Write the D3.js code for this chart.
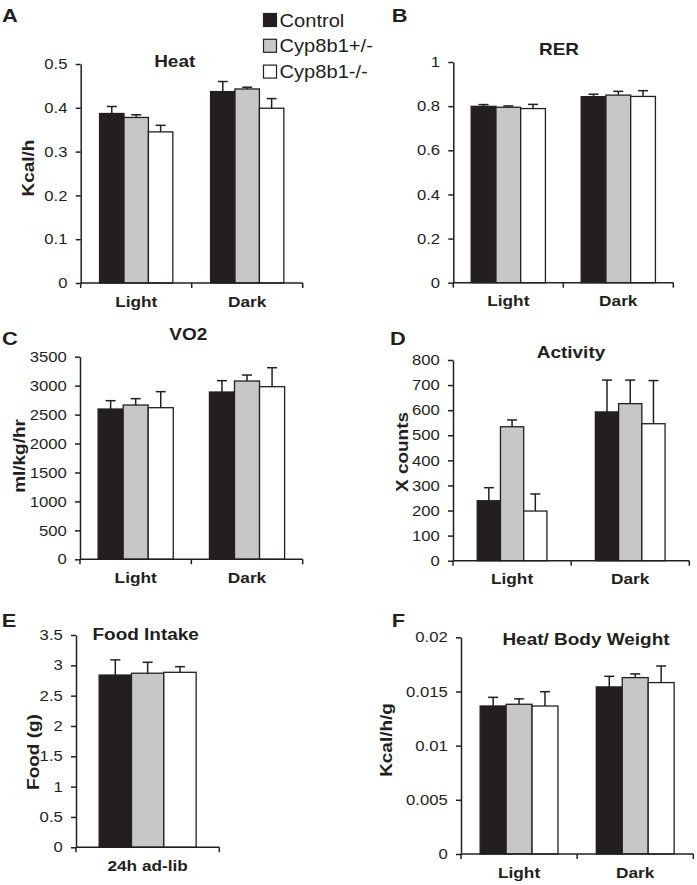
<!DOCTYPE html>
<html>
<head>
<meta charset="utf-8">
<script src="https://cdnjs.cloudflare.com/ajax/libs/d3/7.8.5/d3.min.js"></script>
<style>
body { margin: 0; background: #fff; }
svg { display: block; font-family: "Liberation Sans", Arial, Helvetica, sans-serif; }
</style>
</head>
<body>
<svg width="697" height="885"></svg>
<script>
var series = ["Control", "Cyp8b1+/-", "Cyp8b1-/-"];
var periods = ["Light", "Dark"];
var feeding = ["24h ad-lib"];

// mean and SEM, [category][series]
var heatMean = [[0.387, 0.378, 0.345], [0.437, 0.443, 0.399]];
var heatSem  = [[0.016, 0.006, 0.015], [0.023, 0.004, 0.022]];
var heatTicks = [0, 0.1, 0.2, 0.3, 0.4, 0.5];

var rerMean = [[0.799, 0.795, 0.789], [0.843, 0.850, 0.844]];
var rerSem  = [[0.008, 0.006, 0.019], [0.011, 0.017, 0.026]];
var rerTicks = [0, 0.2, 0.4, 0.6, 0.8, 1];

var vo2Mean = [[2596, 2665, 2619], [2890, 3080, 2982]];
var vo2Sem  = [[144, 110, 277], [196, 103, 328]];
var vo2Ticks = [0, 500, 1000, 1500, 2000, 2500, 3000, 3500];

var actMean = [[239, 534, 198], [593, 626, 546]];
var actSem  = [[52, 27, 68], [127, 94, 172]];
var actTicks = [0, 100, 200, 300, 400, 500, 600, 700, 800];

var foodMean = [[2.84, 2.87, 2.885]];
var foodSem  = [[0.25, 0.18, 0.093]];
var foodTicks = [0, 0.5, 1, 1.5, 2, 2.5, 3, 3.5];

var hbwMean = [[0.01366, 0.01382, 0.01366], [0.01542, 0.01628, 0.01582]];
var hbwSem  = [[0.0008, 0.0005, 0.00132], [0.00098, 0.00034, 0.00153]];
var hbwTicks = [0, 0.005, 0.01, 0.015, 0.02];

var colors = ["#231f20", "#c6c7c9", "#ffffff"];
var ink = "#231f20";
var SX = 1.15; // the figure's type is a bit wider than Arial

var svg = d3.select("svg");

function label(g, x, y, s, size, bold, anchor, rot) {
  return g.append("text")
    .attr("transform", "translate(" + x + "," + y + ")" + (rot ? " rotate(-90)" : "") + " scale(" + SX + ",1)")
    .attr("text-anchor", anchor)
    .attr("dy", rot ? "0.35em" : null)
    .attr("fill", ink)
    .style("font-size", size + "px")
    .style("font-weight", bold ? "bold" : "normal")
    .text(s);
}

var panels = [
  { letter: "A", title: "Heat", ylab: "Kcal/h", cats: periods, mean: heatMean, sem: heatSem, ticks: heatTicks,
    x0: 80.7, x1: 302.7, top: 64, bot: 283, pad: 0.34, lx: 2, ly: 21.7, tx: 174.7, ty: 66.7, yx: 28.3, yy: 168 },
  { letter: "B", title: "RER", ylab: null, cats: periods, mean: rerMean, sem: rerSem, ticks: rerTicks,
    x0: 453.3, x1: 673.3, top: 62, bot: 282.7, pad: 0.325, lx: 391.7, ly: 21.7, tx: 559, ty: 55 },
  { letter: "C", title: "VO2", ylab: "ml/kg/hr", cats: periods, mean: vo2Mean, sem: vo2Sem, ticks: vo2Ticks,
    x0: 80, x1: 302.7, top: 356.7, bot: 559.3, pad: 0.325, lx: 2, ly: 345, tx: 188.3, ty: 340, yx: 19, yy: 456 },
  { letter: "D", title: "Activity", ylab: "X counts", cats: periods, mean: actMean, sem: actSem, ticks: actTicks,
    x0: 453, x1: 689.3, top: 360, bot: 560.7, pad: 0.41, lx: 390, ly: 345, tx: 571, ty: 358.3, yx: 402.3, yy: 452 },
  { letter: "E", title: "Food Intake", ylab: "Food (g)", cats: feeding, mean: foodMean, sem: foodSem, ticks: foodTicks,
    x0: 76, x1: 219.3, top: 635, bot: 847.3, pad: 0.323, lx: 1.7, ly: 626.7, tx: 145.7, ty: 640, yx: 33.3, yy: 752 },
  { letter: "F", title: "Heat/ Body Weight", ylab: "Kcal/h/g", cats: periods, mean: hbwMean, sem: hbwSem, ticks: hbwTicks,
    x0: 461, x1: 693.3, top: 637.3, bot: 854, pad: 0.33, lx: 391.7, ly: 626.7, tx: 586, ty: 645, yx: 386.7, yy: 740 }
];

panels.forEach(function(p) {
  var g = svg.append("g");
  var y = d3.scaleLinear().domain([0, d3.max(p.ticks)]).range([p.bot, p.top]);
  var x = d3.scaleBand().domain(p.cats).range([p.x0, p.x1]).paddingInner(p.pad).paddingOuter(p.pad / 2);
  var xs = d3.scaleBand().domain(series).range([0, x.bandwidth()]);

  var rows = [];
  p.cats.forEach(function(c, i) {
    series.forEach(function(s, j) {
      rows.push({ cat: c, ser: s, j: j, v: p.mean[i][j], e: p.sem[i][j] });
    });
  });

  g.selectAll("rect.bar").data(rows).join("rect")
    .attr("class", "bar")
    .attr("x", function(d) { return x(d.cat) + xs(d.ser); })
    .attr("y", function(d) { return y(d.v); })
    .attr("width", xs.bandwidth())
    .attr("height", function(d) { return y(0) - y(d.v); })
    .attr("fill", function(d) { return colors[d.j]; })
    .attr("stroke", ink)
    .attr("stroke-width", 1.3);

  var cx = function(d) { return x(d.cat) + xs(d.ser) + xs.bandwidth() / 2; };
  var err = g.selectAll("g.err").data(rows).join("g").attr("class", "err")
    .attr("stroke", ink).attr("stroke-width", 1.5);
  err.append("line")
    .attr("x1", cx).attr("x2", cx)
    .attr("y1", function(d) { return y(d.v); })
    .attr("y2", function(d) { return y(d.v + d.e); });
  err.append("line")
    .attr("x1", function(d) { return cx(d) - 5; })
    .attr("x2", function(d) { return cx(d) + 5; })
    .attr("y1", function(d) { return y(d.v + d.e); })
    .attr("y2", function(d) { return y(d.v + d.e); });

  // y axis
  var ya = g.append("g").attr("transform", "translate(" + p.x0 + ",0)")
    .call(d3.axisLeft(y).tickValues(p.ticks).tickSize(5).tickSizeOuter(0).tickPadding(6.5)
      .tickFormat(function(d) { return String(d); }));
  ya.select(".domain").attr("stroke", ink).attr("stroke-width", 1.5);
  ya.selectAll(".tick line").attr("stroke", ink).attr("stroke-width", 1.5);
  ya.selectAll(".tick text")
    .attr("transform", "scale(" + SX + ",1)")
    .attr("fill", ink)
    .style("font-size", "14.5px")
    .style("font-family", "'Liberation Sans', Arial, sans-serif");

  // x axis with ticks on category boundaries
  g.append("line").attr("x1", p.x0).attr("x2", p.x1).attr("y1", p.bot).attr("y2", p.bot)
    .attr("stroke", ink).attr("stroke-width", 1.5);
  g.selectAll("line.xt").data(d3.range(p.cats.length + 1)).join("line")
    .attr("class", "xt")
    .attr("x1", function(i) { return p.x0 + i * x.step(); })
    .attr("x2", function(i) { return p.x0 + i * x.step(); })
    .attr("y1", p.bot).attr("y2", p.bot + 5)
    .attr("stroke", ink).attr("stroke-width", 1.5);
  p.cats.forEach(function(c) {
    label(g, x(c) + x.bandwidth() / 2, p.bot + 23.5, c, 15, true, "middle");
  });

  label(g, p.tx, p.ty, p.title, 16.5, true, "middle");
  label(g, p.lx, p.ly, p.letter, 19, true, "start");
  if (p.ylab) label(g, p.yx, p.yy, p.ylab, 16.5, true, "middle", true);
});

// legend
var leg = svg.append("g").selectAll("g").data(series).join("g")
  .attr("transform", function(d, i) { return "translate(263," + (13 + i * 25.8) + ")"; });
leg.append("rect")
  .attr("x", 0.5).attr("y", 0.5).attr("width", 13).attr("height", 13)
  .attr("fill", function(d, i) { return colors[i]; })
  .attr("stroke", ink).attr("stroke-width", 1.2);
leg.each(function(d) {
  label(d3.select(this), 16.5, 13.5, d, 17.5, false, "start");
});
</script>
</body>
</html>
